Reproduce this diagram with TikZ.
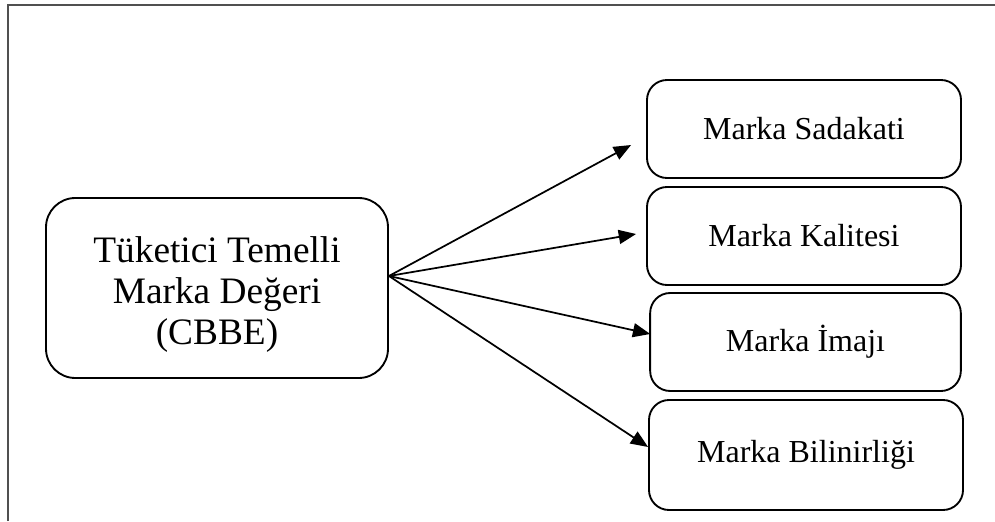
\documentclass[tikz,border=0pt]{standalone}
\usepackage{fontspec}
\setmainfont{Liberation Serif}
\usetikzlibrary{arrows.meta,calc}

\definecolor{cerceve}{RGB}{80,80,80}

\tikzset{
  kutu/.style={draw, line width=1.4pt, rounded corners=15pt, inner sep=0pt,
    minimum width=235.5pt, minimum height=73.5pt, align=center,
    font=\fontsize{24}{28}\selectfont},
  ana/.style={kutu, rounded corners=22pt, minimum width=256.5pt,
    minimum height=135pt, font=\fontsize{28}{31}\selectfont},
  ok/.style={line width=1.3pt, -{Triangle[length=13pt,width=10.5pt]}}
}

\begin{document}
\begin{tikzpicture}[x=0.75pt,y=-0.75pt]
  \useasboundingbox (0,0) rectangle (995,521);
  % frame
  \draw[cerceve, line width=1.5pt] (8,521) -- (8,5) -- (995,5);

  \node[ana] (cbbe) at (217,288) {\rule{0pt}{29pt}Tüketici Temelli\\Marka Değeri\\(CBBE)};
  \node[kutu] (sadakat) at (804,129) {Marka Sadakati};
  \node[kutu] (kalite) at (804,236) {Marka Kalitesi};
  \node[kutu, minimum width=233pt] (imaj) at (805.5,342) {Marka İmajı};
  \node[kutu, minimum height=82.5pt] (bilinirlik) at (806,455) {Marka Bilinirliği};

  \coordinate (merkez) at ($(cbbe.east)+(0,-12)$);
  \coordinate (uc1) at ($(sadakat.west)+(-15,16)$);
  \coordinate (uc2) at ($(kalite.west)+(-10,-2)$);
  \draw[ok] (merkez) -- (uc1);
  \draw[ok] (merkez) -- (uc2);
  \draw[ok] (merkez) -- ($(imaj.west)+(1,-8)$);
  \draw[ok] (merkez) -- ($(bilinirlik.west)+(0,-8)$);
\end{tikzpicture}
\end{document}
